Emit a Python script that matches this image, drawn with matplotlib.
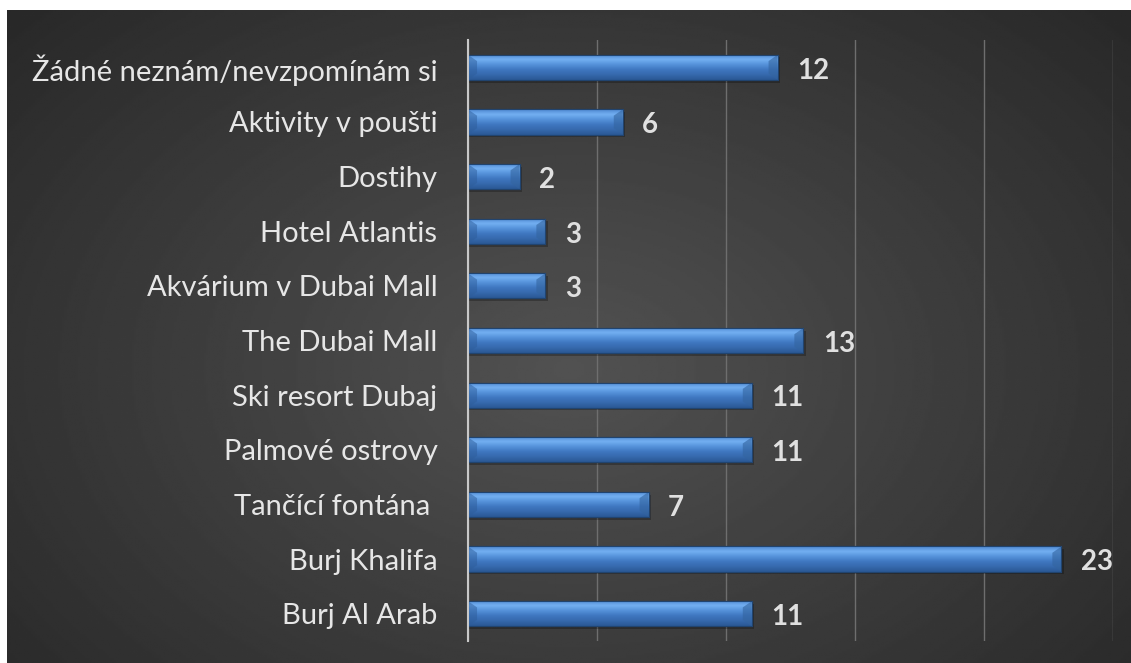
import numpy as np
import matplotlib.pyplot as plt
from matplotlib.colors import LinearSegmentedColormap
from matplotlib.patches import Polygon

categories = ["Burj Al Arab", "Burj Khalifa", "Tančící fontána ", "Palmové ostrovy",
              "Ski resort Dubaj", "The Dubai Mall", "Akvárium v Dubai Mall",
              "Hotel Atlantis", "Dostihy", "Aktivity v poušti",
              "Žádné neznám/nevzpomínám si"]
values = [11, 23, 7, 11, 11, 13, 3, 3, 2, 6, 12]
x_ticks = [0, 5, 10, 15, 20, 25]

W, H = 1131, 663
fig = plt.figure(figsize=(W / 100, H / 100), dpi=100, facecolor="white")

# dark radial background
bg = fig.add_axes([7 / W, 0, 1 - 7 / W, 1 - 10 / H])
yy, xx = np.mgrid[0:1:300j, 0:1:500j]
r = np.sqrt(((xx - 0.5) / 0.75) ** 2 + ((yy - 0.55) / 0.9) ** 2)
shade = np.clip(0.32 - 0.18 * r, 0.14, 0.32)
bg.imshow(shade, cmap="gray", vmin=0, vmax=1, aspect="auto", extent=[0, 1, 0, 1])
bg.set_axis_off()

ax = fig.add_axes([468 / W, 1 - 641 / H, (1113 - 468) / W, (641 - 40) / H])
ax.patch.set_alpha(0)
y = np.arange(len(categories))
bars = ax.barh(y, values, height=0.46, color="#4a84cc", edgecolor="#244a7a",
               linewidth=0.8, zorder=3)

grad = LinearSegmentedColormap.from_list(
    "bev", ["#2a5894", "#3669ad", "#3f77c0", "#5592da", "#74b0f2", "#4b86cf"])
g = np.linspace(0, 1, 64).reshape(-1, 1)
for b in bars:
    x0, y0 = b.get_x(), b.get_y()
    w, h = b.get_width(), b.get_height()
    # shadow
    ax.barh(y0 + h / 2 - 0.05, w + 0.08, height=h, left=0.02,
            color="black", alpha=0.25, zorder=2, linewidth=0)
    im = ax.imshow(g, cmap=grad, aspect="auto", extent=[x0, x0 + w, y0, y0 + h],
                   origin="lower", zorder=3.5, interpolation="bicubic")
    im.set_clip_path(b)
    # end bevels
    d = 0.35
    ax.add_patch(Polygon([[x0 + w, y0], [x0 + w, y0 + h], [x0 + w - d, y0 + h * 0.75],
                          [x0 + w - d, y0 + h * 0.25]], closed=True,
                         color="#33649f", alpha=0.6, zorder=3.6, linewidth=0))
    ax.add_patch(Polygon([[x0, y0], [x0, y0 + h], [x0 + d, y0 + h * 0.75],
                          [x0 + d, y0 + h * 0.25]], closed=True,
                         color="#2e5d9a", alpha=0.5, zorder=3.6, linewidth=0))
    ax.add_patch(plt.Rectangle((x0, y0), w, h, fill=False, edgecolor="#21446f",
                               linewidth=0.8, zorder=3.7))

for yi, v in zip(y, values):
    ax.text(v + 0.75, yi - 0.06, str(v), va="center", ha="left", color="#e0e0e0",
            fontsize=20, fontweight="bold", family="Lato")

ax.set_xlim(0, 25)
ax.set_ylim(-0.5, len(categories) - 0.5)
ax.set_xticks(x_ticks)
ax.set_xticklabels([])
ax.tick_params(axis="x", length=0)
ax.tick_params(axis="y", length=0, pad=22)
ax.grid(axis="x", color="#6e6e6e", linewidth=1, zorder=0)
ax.set_yticks(y)
ax.set_yticklabels(categories, color="#e6e6e6", fontsize=21, family="Lato")
for s in ["top", "right", "bottom"]:
    ax.spines[s].set_visible(False)
ax.spines["left"].set_color("#c8c8c8")
ax.spines["left"].set_linewidth(1.5)
ax.spines["left"].set_zorder(5)

fig.savefig("out.png", dpi=100, facecolor="white")
